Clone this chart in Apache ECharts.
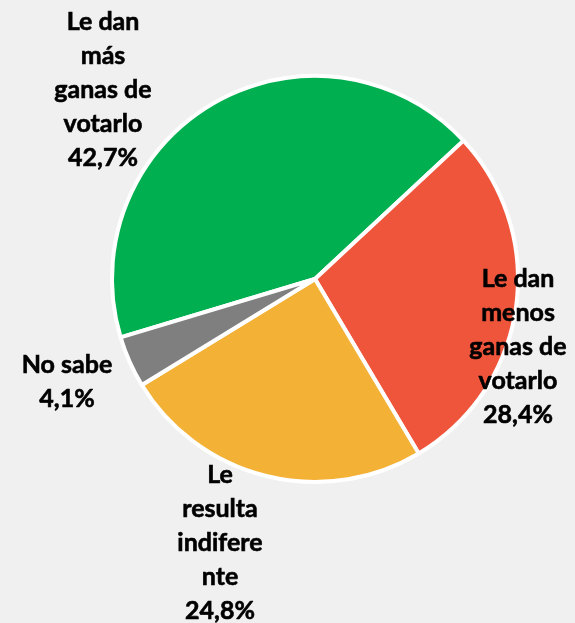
<!DOCTYPE html>
<html>
<head>
<meta charset="utf-8">
<script src="https://cdn.jsdelivr.net/npm/echarts@6/dist/echarts.min.js"></script>
<style>
html,body{margin:0;padding:0;background:#f0f0f0;}
#chart{width:575px;height:623px;}
</style>
</head>
<body>
<div id="chart"></div>
<script>
const categories = ['Le dan\nmás\nganas de\nvotarlo', 'Le dan\nmenos\nganas de\nvotarlo', 'Le\nresulta\nindifere\nnte', 'No sabe'];
const values = [42.7, 28.4, 24.8, 4.1];
const valueLabels = ['42,7%', '28,4%', '24,8%', '4,1%'];
const colors = ['#00b050', '#ef553b', '#f3b136', '#7f7f7f'];
const labelPos = [[103, 90], [518, 347], [220, 543], [67, 382]];

const chart = echarts.init(document.getElementById('chart'), null, {renderer: 'canvas'});
chart.setOption({
  backgroundColor: '#f0f0f0',
  animation: false,
  series: [{
    type: 'pie',
    center: [315, 279],
    radius: 203,
    startAngle: 196.7,
    clockwise: true,
    avoidLabelOverlap: false,
    data: categories.map((c, i) => ({
      name: c,
      value: values[i],
      itemStyle: {color: colors[i]}
    })),
    itemStyle: {borderColor: '#ffffff', borderWidth: 4},
    label: {
      show: true,
      position: 'inside',
      overflow: 'none',
      formatter: p => p.name + '\n' + valueLabels[p.dataIndex],
      fontFamily: 'Lato',
      fontWeight: 'bold',
      fontSize: 25,
      lineHeight: 34,
      color: '#000',
      textBorderColor: '#000',
      textBorderWidth: 0.6,
      align: 'center'
    },
    labelLine: {show: false},
    labelLayout: p => ({
      x: labelPos[p.dataIndex][0],
      y: labelPos[p.dataIndex][1],
      align: 'center',
      verticalAlign: 'middle',
      hideOverlap: false
    })
  }]
});
</script>
</body>
</html>
